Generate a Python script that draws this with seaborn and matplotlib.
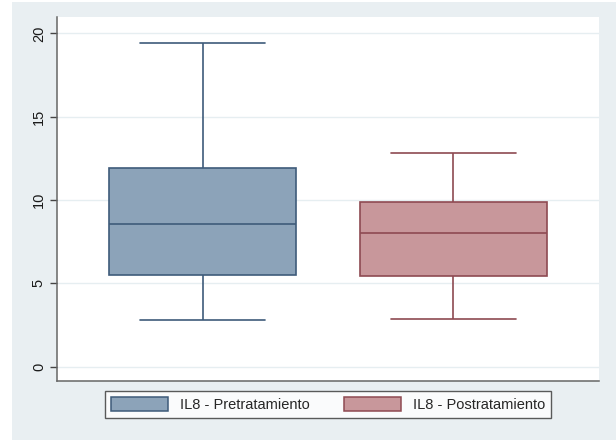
import matplotlib
matplotlib.use("Agg")
import matplotlib.pyplot as plt
from matplotlib.patches import Rectangle, Patch
import pandas as pd
import seaborn as sns

# Group labels and the five-number summary of each group
# (lower whisker, Q1, median, Q3, upper whisker)
groups = ["IL8 - Pretratamiento", "IL8 - Postratamiento"]
pre_values = [2.80, 5.50, 8.56, 11.92, 19.42]
post_values = [2.84, 5.44, 8.00, 9.88, 12.80]
yticks = [0, 5, 10, 15, 20]

fill_colors = ["#8ca3b9", "#c8979b"]
edge_colors = ["#3e5b7a", "#8e4a52"]

df = pd.DataFrame({
    "group": [groups[0]] * len(pre_values) + [groups[1]] * len(post_values),
    "value": pre_values + post_values,
})

sns.set_theme(style="white")
plt.rcParams["font.family"] = ["Liberation Sans", "DejaVu Sans"]

fig = plt.figure(figsize=(6.16, 4.40), dpi=100, facecolor="white")
# light bluish-grey graph region behind the plot area
fig.patches.append(Rectangle((12 / 616, 0), 1 - 12 / 616, 1 - 2 / 440,
                             transform=fig.transFigure, facecolor="#e9eff2",
                             edgecolor="none", zorder=-10))

ax = fig.add_axes([57 / 616, 59 / 440, 542 / 616, 364 / 440])
ax.set_zorder(1)
ax.set_facecolor("white")

for g, fc, ec in zip(groups, fill_colors, edge_colors):
    sns.boxplot(data=df[df["group"] == g], x="group", y="value", order=groups,
                color=fc, linecolor=ec, saturation=1, width=0.745,
                linewidth=1.2, whis=1.5, showfliers=False,
                capwidths=0.5, ax=ax)

ax.set_xlim(-0.58, 1.58)
ax.set_ylim(-0.86, 20.98)
ax.set_yticks(yticks)
ax.set_yticklabels([str(t) for t in yticks], rotation=90, va="center",
                   fontsize=10.5, color="#1a1a1a")
ax.set_xticks([])
ax.set_xlabel("")
ax.set_ylabel("")
ax.yaxis.grid(True, color="#e6eef1", linewidth=1.0, zorder=0)
ax.set_axisbelow(True)
ax.tick_params(axis="y", left=True, length=5, width=1, color="#444444", pad=3)
for side in ("top", "right"):
    ax.spines[side].set_visible(False)
for side in ("left", "bottom"):
    ax.spines[side].set_color("#666666")
    ax.spines[side].set_linewidth(1.1)

handles = [Patch(facecolor=fc, edgecolor=ec, linewidth=1.1)
           for fc, ec in zip(fill_colors, edge_colors)]
leg = fig.legend(handles, groups, loc="center",
                 bbox_to_anchor=(328 / 616, 1 - 404.5 / 440),
                 ncol=2, frameon=True, fancybox=False, fontsize=10.5,
                 handlelength=3.9, handleheight=1.1, handletextpad=0.8,
                 columnspacing=2.4, borderpad=0.4, borderaxespad=0)
leg.get_frame().set_edgecolor("#333333")
leg.get_frame().set_linewidth(1.0)
leg.get_frame().set_facecolor("white")

fig.savefig("out.png", dpi=100, facecolor="white")
